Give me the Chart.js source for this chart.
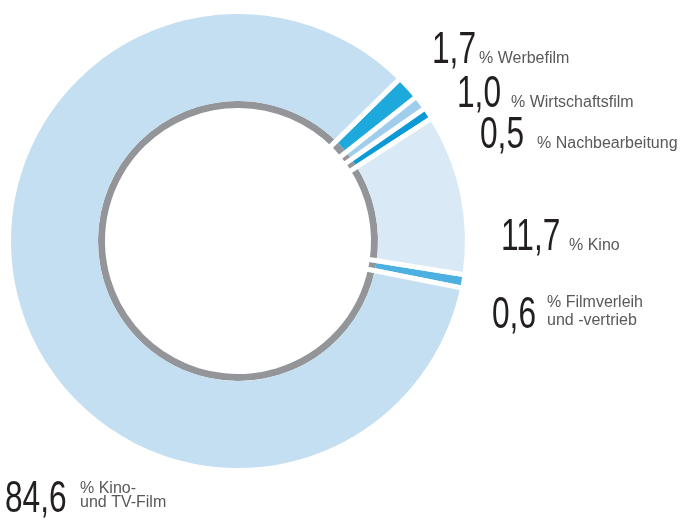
<!DOCTYPE html>
<html>
<head>
<meta charset="utf-8">
<script src="https://cdn.jsdelivr.net/npm/chart.js@4.4.0/dist/chart.umd.min.js"></script>
<style>
html, body { margin: 0; padding: 0; background: #fff; }
canvas { display: block; }
</style>
</head>
<body>
<canvas id="share-chart" width="685" height="520"></canvas>
<script>
// Anteile in Prozent, im Uhrzeigersinn ab oben rechts
const categories = ["Werbefilm", "Wirtschaftsfilm", "Nachbearbeitung", "Kino", "Filmverleih und -vertrieb", "Kino- und TV-Film"];
const shares = [1.7, 1.0, 0.5, 11.7, 0.6, 84.6];
const labelLines = [
	["% Werbefilm"],
	["% Wirtschaftsfilm"],
	["% Nachbearbeitung"],
	["% Kino"],
	["% Filmverleih", "und -vertrieb"],
	["% Kino-", "und TV-Film"],
];

const sliceColors = ["#1ea9dd", "#a0cdec", "#0b9ad5", "#d9eaf6", "#4cb1e0", "#c3dff1"];
const ringColor = "#939598";

// where the annotation text sits (number x/baseline, text x/baselines)
const labelPos = [
	{ x: 432, y: 63, tx: 479, ty: [63] },
	{ x: 457, y: 107, tx: 511, ty: [107] },
	{ x: 480, y: 148, tx: 537, ty: [148] },
	{ x: 501, y: 250, tx: 569, ty: [250] },
	{ x: 492, y: 328, tx: 547, ty: [307, 325] },
	{ x: 5, y: 512, tx: 80, ty: [493, 507] },
];

const GAP = 5;

// white separators at each slice boundary, cut into the bigger neighbour
const sliceGaps = {
	id: "sliceGaps",
	afterDatasetsDraw(chart) {
		const arcs = chart.getDatasetMeta(0).data;
		const inner = chart.getDatasetMeta(1).data[0].innerRadius;
		const c = chart.ctx;
		const n = arcs.length;
		c.save();
		c.strokeStyle = "#fff";
		c.lineWidth = GAP;
		arcs.forEach((a, i) => {
			const prev = shares[(i - 1 + n) % n];
			const ang = a.startAngle;
			const side = shares[i] >= prev ? 1 : -1;
			const ox = -Math.sin(ang) * side * GAP / 2;
			const oy = Math.cos(ang) * side * GAP / 2;
			c.beginPath();
			c.moveTo(a.x + ox + Math.cos(ang) * (inner - 2), a.y + oy + Math.sin(ang) * (inner - 2));
			c.lineTo(a.x + ox + Math.cos(ang) * (a.outerRadius + 2), a.y + oy + Math.sin(ang) * (a.outerRadius + 2));
			c.stroke();
		});
		c.restore();
	},
};

const sliceLabels = {
	id: "sliceLabels",
	afterDraw(chart) {
		const ctx = chart.ctx;
		ctx.save();
		ctx.textBaseline = "alphabetic";
		shares.forEach((v, i) => {
			const p = labelPos[i];
			ctx.save();
			ctx.translate(p.x, p.y);
			ctx.scale(0.72, 1);
			ctx.font = "44px 'Liberation Sans'";
			ctx.fillStyle = "#231f20";
			ctx.fillText(v.toFixed(1).replace(".", ","), 0, 0);
			ctx.restore();
			ctx.font = "16px 'Liberation Sans'";
			ctx.fillStyle = "#58595b";
			labelLines[i].forEach((t, j) => ctx.fillText(t, p.tx, p.ty[j]));
		});
		ctx.restore();
	},
};

const ctx = document.getElementById("share-chart").getContext("2d");
const myChart = new Chart(ctx, {
	type: "doughnut",
	data: {
		labels: categories,
		datasets: [
			{
				data: shares,
				backgroundColor: sliceColors,
				borderWidth: 0,
				weight: 87,
			},
			{
				data: shares,
				backgroundColor: ringColor,
				borderWidth: 0,
				weight: 7,
			},
		],
	},
	options: {
		responsive: false,
		animation: false,
		cutout: "58.6%",
		rotation: 45.5,
		layout: {
			padding: {
				left: 11,
				right: 220,
				top: 14,
				bottom: 52,
			},
		},
		plugins: {
			legend: { display: false },
			tooltip: { enabled: false },
		},
	},
	plugins: [sliceGaps, sliceLabels],
});
</script>
</body>
</html>
